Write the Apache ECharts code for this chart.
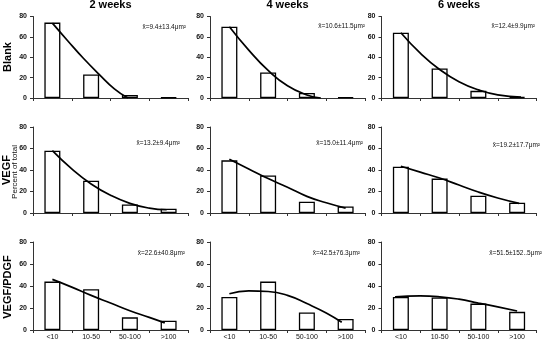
<!DOCTYPE html>
<html><head><meta charset="utf-8">
<script src="https://cdn.jsdelivr.net/npm/echarts@6/dist/echarts.min.js"></script>
<style>html,body{margin:0;padding:0;background:#fff}#c{width:544px;height:341px}</style>
</head><body><div id="c"></div>
<script>
const categories = ['<10', '10-50', '50-100', '>100'];
const columnTitles = ['2 weeks', '4 weeks', '6 weeks'];
const rowTitles = ['Blank', 'VEGF', 'VEGF/PDGF'];
const yAxisTitle = 'Percent of total';

// bar values (percent of total)
const blank2 = [74, 23, 3, 0.5];
const blank4 = [70, 25, 5, 0.7];
const blank6 = [64, 29, 7, 1];
const vegf2 = [58, 30, 8, 4];
const vegf4 = [49, 35, 10.5, 6];
const vegf6 = [43, 32, 16, 9.5];
const vp2 = [44, 37, 11.5, 8.5];
const vp4 = [30, 44, 16, 10];
const vp6 = [30, 29.5, 24, 16.5];

// trend curves: [category position, percent]
const fitBlank2 = [[0, 73.5], [0.4, 56], [0.8, 39], [1.2, 23.5], [1.6, 9], [1.95, 0]];
const fitBlank4 = [[0, 70], [0.5, 47], [1, 27], [1.5, 12], [2, 3], [2.36, 0]];
const fitBlank6 = [[0, 64], [0.5, 44], [1, 28], [1.5, 16], [2, 8], [2.5, 3], [3.1, 0.8]];
const fitVegf2 = [[0, 58], [0.5, 41], [1, 27], [1.5, 16.5], [2, 9], [2.5, 4.5], [2.95, 3]];
const fitVegf4 = [[0, 50], [0.5, 41], [1, 32], [1.5, 24], [2, 15.5], [2.5, 9.5], [3, 4.5]];
const fitVegf6 = [[0, 43.5], [0.5, 38], [1, 32.5], [1.5, 26], [2, 19.5], [2.5, 14], [3.05, 9]];
const fitVp2 = [[0, 46], [0.5, 39], [1, 31.5], [1.5, 24.5], [2, 17.5], [2.5, 11.5], [2.9, 6.5]];
const fitVp4 = [[0, 33], [0.5, 35.5], [1, 35], [1.5, 31.5], [2, 24], [2.5, 15.5], [2.9, 7]];
const fitVp6 = [[-0.15, 30.2], [0.5, 31], [1, 30.2], [1.5, 28], [2, 24.5], [2.5, 21], [3, 17.3]];

// mean ± SD labels
const meansBlank = ['x\u0304=9.4\u00b113.4\u03bcm\u00b2', 'x\u0304=10.6\u00b111.5\u03bcm\u00b2', 'x\u0304=12.4\u00b19.9\u03bcm\u00b2'];
const meansVegf = ['x\u0304=13.2\u00b19.4\u03bcm\u00b2', 'x\u0304=15.0\u00b111.4\u03bcm\u00b2', 'x\u0304=19.2\u00b117.7\u03bcm\u00b2'];
const meansVp = ['x\u0304=22.6\u00b140.8\u03bcm\u00b2', 'x\u0304=42.5\u00b176.3\u03bcm\u00b2', 'x\u0304=51.5\u00b1152..5\u03bcm\u00b2'];

const yMin = 0, yMax = 80, yStep = 20;

const barRows = [[blank2, blank4, blank6], [vegf2, vegf4, vegf6], [vp2, vp4, vp6]];
const fitRows = [[fitBlank2, fitBlank4, fitBlank6], [fitVegf2, fitVegf4, fitVegf6], [fitVp2, fitVp4, fitVp6]];
const meanRows = [meansBlank, meansVegf, meansVp];

const colLeft = [33, 210, 381.5];
const colW = 155;
const rowTop = [16.5, 127, 242];
const rowH = [81.5, 86, 88.5];
const meanPos = [
  [[186, 27], [365, 26], [535, 26]],
  [[180, 143], [363, 143], [540, 145]],
  [[185, 253], [360, 253], [542, 253]]
];

const FONT = 'Liberation Sans, Arial, sans-serif';
const AX = '#333';
const grid = [], xAxis = [], yAxis = [], series = [], graphic = [];

for (let r = 0; r < 3; r++) {
  for (let c = 0; c < 3; c++) {
    const g = r * 3 + c;
    grid.push({ left: colLeft[c], top: rowTop[r], width: colW, height: rowH[r] });
    xAxis.push({
      type: 'category', gridIndex: g, data: categories, boundaryGap: true,
      axisLine: { onZero: false, lineStyle: { color: AX, width: 1 } },
      axisTick: { show: true, length: 3, alignWithLabel: false, lineStyle: { color: AX } },
      axisLabel: { show: r === 2, fontSize: 7, color: '#111', margin: 4, fontFamily: FONT, interval: 0 },
      splitLine: { show: false }
    });
    xAxis.push({
      type: 'value', gridIndex: g, min: -0.5, max: 3.5, show: false,
      axisLine: { onZero: false }
    });
    yAxis.push({
      type: 'value', gridIndex: g, min: yMin, max: yMax, interval: yStep,
      axisLine: { show: true, onZero: false, lineStyle: { color: AX, width: 1 } },
      axisTick: { show: true, length: 3, lineStyle: { color: AX } },
      axisLabel: { fontSize: 7, color: '#111', margin: 6, fontFamily: FONT, fontWeight: 'bold' },
      splitLine: { show: false }
    });
    series.push({
      type: 'bar', xAxisIndex: g * 2, yAxisIndex: g, data: barRows[r][c],
      barWidth: 16, silent: true,
      itemStyle: { color: '#fff', borderColor: '#000', borderWidth: 1.3 }
    });
    series.push({
      type: 'line', xAxisIndex: g * 2 + 1, yAxisIndex: g, data: fitRows[r][c],
      smooth: 0.5, showSymbol: false, silent: true,
      lineStyle: { color: '#000', width: 1.7 }, z: 5
    });
    graphic.push({
      type: 'text', x: meanPos[r][c][0], y: meanPos[r][c][1],
      style: { text: meanRows[r][c], font: '6.5px ' + FONT, fill: '#111', align: 'right', verticalAlign: 'middle' }
    });
  }
}

const titleX = [110.5, 287.5, 459];
for (let c = 0; c < 3; c++) {
  graphic.push({
    type: 'text', x: titleX[c], y: 5,
    style: { text: columnTitles[c], font: 'bold 11px ' + FONT, fill: '#000', align: 'center', verticalAlign: 'middle' }
  });
}
const rowLabelY = [57, 170, 287];
const rowLabelX = [8, 7, 8];
for (let r = 0; r < 3; r++) {
  graphic.push({
    type: 'text', x: rowLabelX[r], y: rowLabelY[r], rotation: Math.PI / 2,
    style: { text: rowTitles[r], font: 'bold 11px ' + FONT, fill: '#000', align: 'center', verticalAlign: 'middle' }
  });
}
graphic.push({
  type: 'text', x: 15, y: 172, rotation: Math.PI / 2,
  style: { text: yAxisTitle, font: '8px ' + FONT, fill: '#111', align: 'center', verticalAlign: 'middle' }
});

const chart = echarts.init(document.getElementById('c'), null, { renderer: 'canvas' });
chart.setOption({
  animation: false,
  backgroundColor: '#fff',
  grid, xAxis, yAxis, series, graphic
});
</script></body></html>
